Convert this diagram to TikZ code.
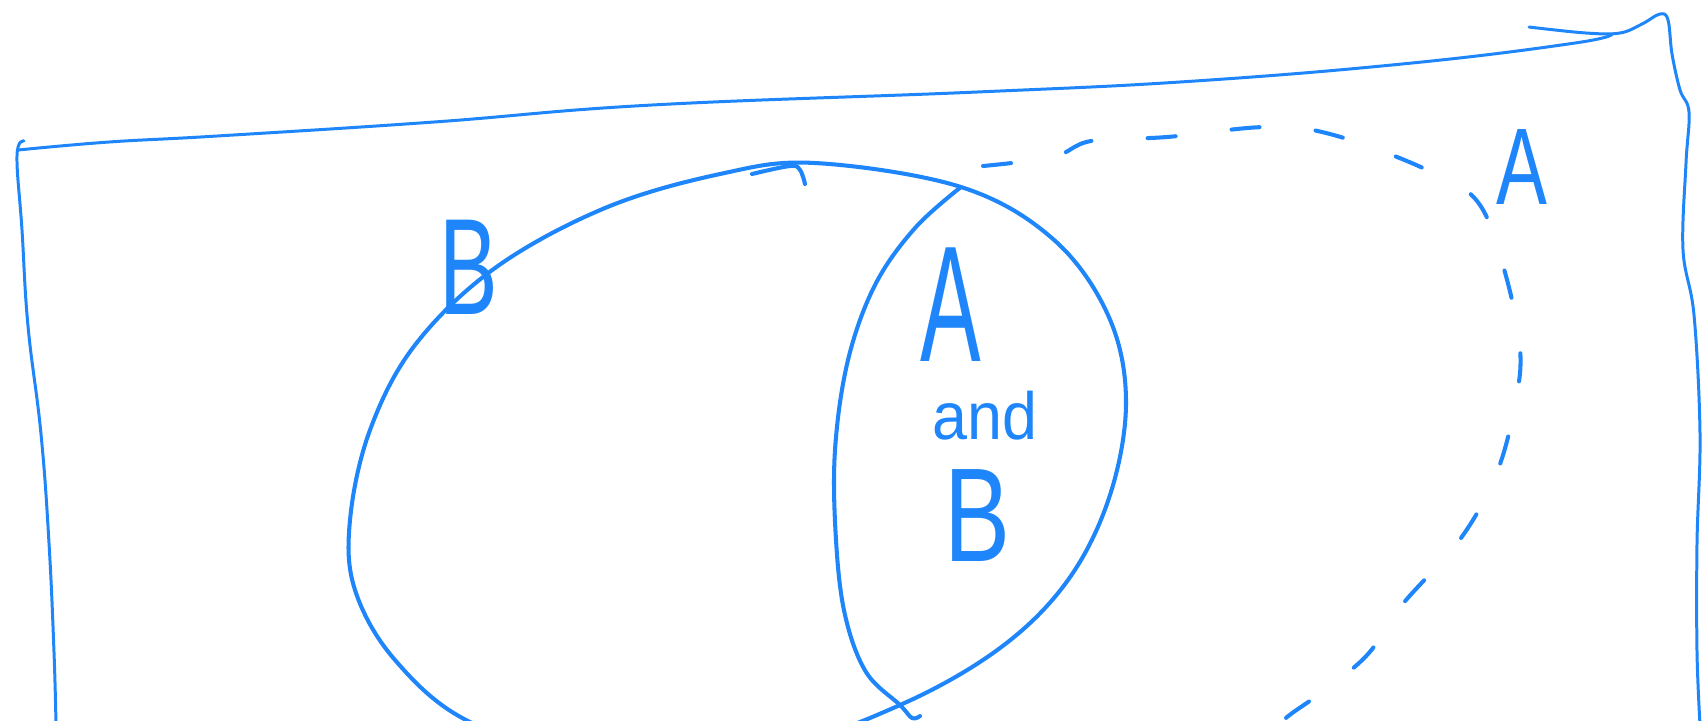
\documentclass[tikz,border=0pt]{standalone}
\usepackage{fontspec}
\setmainfont{Liberation Sans}
\usepackage{graphicx}
\definecolor{pen}{RGB}{30,134,250}
\tikzset{
  penline/.style={draw=pen, line width=1.15pt, line cap=round, line join=round},
  frameline/.style={draw=pen, line width=0.85pt, line cap=round, line join=round},
  dashline/.style={draw=pen, line width=1.15pt, line cap=round, dash pattern=on 8pt off 16pt},
  lbl/.style={text=pen, inner sep=0pt, anchor=center}
}
\begin{document}
\begin{tikzpicture}[x=0.01cm, y=-0.01cm]
\clip (0,0) rectangle (1703,720);
\fill[white] (0,0) rectangle (1703,720);
% frame: left + top edge
\draw[frameline] plot[smooth, tension=0.7] coordinates {(56,725) (54,652) (49,543) (41,434) (28,326) (22,230) (17,156) (24,141)};
\draw[frameline] plot[smooth, tension=0.7] coordinates {(18,150) (109,142) (217,136) (434,122) (652,105) (977,92) (1195,81) (1412,63) (1575,43) (1612,34)};
% top-right stroke and right edge
\draw[frameline] plot[smooth, tension=0.6] coordinates {(1529,27) (1586,33) (1620,33) (1642,24) (1660,14) (1668,20) (1672,54) (1680,90) (1689,112) (1686,163) (1683,250) (1694,315) (1700,434) (1697,543) (1697,652) (1700,725)};
% ellipse B
\draw[penline] plot[smooth cycle, tension=0.6] coordinates {(815,163) (961,187) (1053,239) (1108,315) (1126,400) (1110,495) (1068,580) (1000,648) (900,705) (780,745) (600,760) (470,722) (395,660) (355,590) (350,520) (370,430) (415,345) (495,268) (605,208) (720,174)};
\draw[penline] plot[smooth, tension=0.6] coordinates {(752,174) (790,166) (800,170) (805,184)};
% inner boundary of A
\draw[penline] plot[smooth, tension=0.6] coordinates {(961,187) (915,228) (875,285) (848,360) (835,450) (836,540) (845,615) (866,672) (900,705) (912,718) (920,716)};
% dashed boundary of A
\draw[dashline] plot[smooth, tension=0.6] coordinates {(983,166) (1053,157) (1091,141) (1167,137) (1265,127) (1330,134) (1423,168) (1477,201) (1504,269) (1520,348) (1515,404) (1497,472) (1461,538) (1401,606) (1368,654) (1325,690) (1287,717) (1270,735)};
% labels
\node[lbl] (lblB) at (469,267) {\fontsize{39}{39}\selectfont\scalebox{0.64}[1]{B}};
\node[lbl] (lblA) at (1522,167) {\fontsize{31}{31}\selectfont\scalebox{0.7}[1]{A}};
\node[lbl] (lblAi) at (951,305) {\fontsize{47}{47}\selectfont\scalebox{0.55}[1]{A}};
\node[lbl, anchor=base] (lbland) at (985,439) {\fontsize{19}{19}\selectfont\scalebox{0.94}[1]{and}};
\node[lbl] (lblBi) at (977,516) {\fontsize{38}{38}\selectfont\scalebox{0.74}[1]{B}};
\end{tikzpicture}
\end{document}
